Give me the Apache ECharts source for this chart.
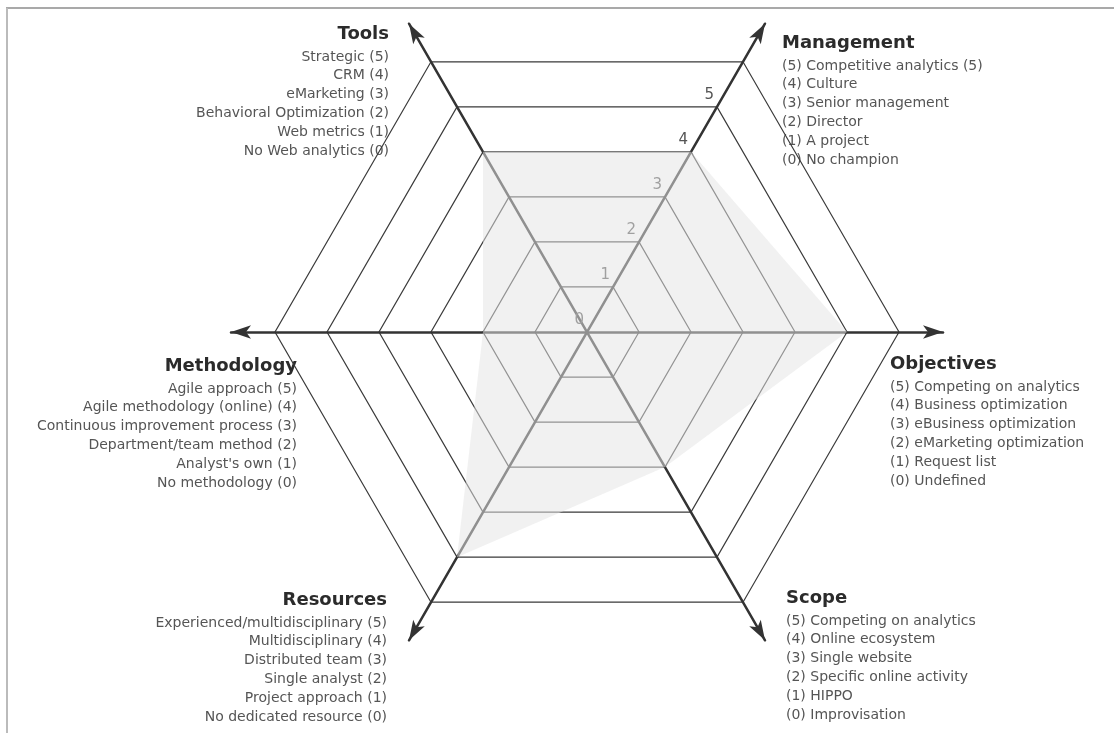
<!DOCTYPE html>
<html>
<head>
<meta charset="utf-8">
<title>Web analytics maturity</title>
<script src="https://cdn.jsdelivr.net/npm/echarts@6/dist/echarts.min.js"></script>
<style>
  html, body { margin: 0; padding: 0; background: #fff; }
  #chart { width: 1114px; height: 733px; }
</style>
</head>
<body>
<div id="chart"></div>
<script>
// axes run counter-clockwise from the right-hand one
const axisNames = ['Objectives', 'Management', 'Tools', 'Methodology', 'Resources', 'Scope'];
const scores = [5, 4, 4, 2, 5, 3];
const scaleMax = 6;
const tickLabels = ['0', '1', '2', '3', '4', '5'];

const objectivesLevels = [
  '(5) Competing on analytics', '(4) Business optimization', '(3) eBusiness optimization',
  '(2) eMarketing optimization', '(1) Request list', '(0) Undefined'
];
const managementLevels = [
  '(5) Competitive analytics (5)', '(4) Culture', '(3) Senior management',
  '(2) Director', '(1) A project', '(0) No champion'
];
const toolsLevels = [
  'Strategic (5)', 'CRM (4)', 'eMarketing (3)',
  'Behavioral Optimization (2)', 'Web metrics (1)', 'No Web analytics (0)'
];
const methodologyLevels = [
  'Agile approach (5)', 'Agile methodology (online) (4)', 'Continuous improvement process (3)',
  'Department/team method (2)', "Analyst's own (1)", 'No methodology (0)'
];
const resourcesLevels = [
  'Experienced/multidisciplinary (5)', 'Multidisciplinary (4)', 'Distributed team (3)',
  'Single analyst (2)', 'Project approach (1)', 'No dedicated resource (0)'
];
const scopeLevels = [
  '(5) Competing on analytics', '(4) Online ecosystem', '(3) Single website',
  '(2) Specific online activity', '(1) HIPPO', '(0) Improvisation'
];

const levelLists = {
  Objectives: objectivesLevels,
  Management: managementLevels,
  Tools: toolsLevels,
  Methodology: methodologyLevels,
  Resources: resourcesLevels,
  Scope: scopeLevels
};

// where each caption block hangs
const blockLayout = {
  Tools:       { x: 389, y: 34, align: 'right' },
  Management:  { x: 782, y: 43, align: 'left' },
  Objectives:  { x: 890, y: 364, align: 'left' },
  Methodology: { x: 297, y: 366, align: 'right' },
  Resources:   { x: 387, y: 600, align: 'right' },
  Scope:       { x: 786, y: 598, align: 'left' }
};

const CENTER = [587, 332];
const FONT = '"DejaVu Sans", sans-serif';

function buildCaptions() {
  const out = [];
  axisNames.forEach(name => {
    const pos = blockLayout[name];
    out.push({
      type: 'text',
      x: pos.x,
      y: pos.y,
      silent: true,
      style: {
        text: name,
        font: 'bold 18px ' + FONT,
        fill: '#2b2b2b',
        align: pos.align,
        verticalAlign: 'middle'
      }
    });
    levelLists[name].forEach((line, i) => {
      out.push({
        type: 'text',
        x: pos.x,
        y: pos.y + 23 + i * 18.8,
        silent: true,
        style: {
          text: line,
          font: '14px ' + FONT,
          fill: '#555',
          align: pos.align,
          verticalAlign: 'middle'
        }
      });
    });
  });
  return out;
}

const chart = echarts.init(document.getElementById('chart'));

const option = {
  animation: false,
  backgroundColor: '#fff',
  radar: [
    {
      // rings + scale labels
      center: CENTER,
      radius: 312,
      startAngle: 0,
      shape: 'polygon',
      splitNumber: 6,
      indicator: axisNames.map(name => {
        const ind = { name: name, min: 0, max: scaleMax };
        if (name === 'Management') ind.axisLabel = { show: true };
        return ind;
      }),
      axisName: { show: false },
      axisLine: { show: false },
      axisTick: { show: false },
      axisLabel: {
        show: false,
        margin: 9,
        color: '#555',
        fontSize: 15,
        fontFamily: FONT,
        align: 'center',
        verticalAlign: 'bottom',
        formatter: v => (tickLabels[v] !== undefined ? tickLabels[v] : '')
      },
      splitLine: { lineStyle: { color: '#3a3a3a', width: 1.2 } },
      splitArea: { show: false }
    },
    {
      // longer axes with arrow heads
      center: CENTER,
      radius: 356,
      startAngle: 0,
      shape: 'polygon',
      splitNumber: 1,
      indicator: axisNames.map(name => ({ name: name, min: 0, max: 1 })),
      axisName: { show: false },
      axisLine: {
        symbol: ['none', 'arrow'],
        symbolSize: [10, 20],
        lineStyle: { color: '#333', width: 2.5 }
      },
      axisTick: { show: false },
      axisLabel: { show: false },
      splitLine: { show: false },
      splitArea: { show: false }
    }
  ],
  series: [
    {
      type: 'radar',
      radarIndex: 0,
      silent: true,
      symbol: 'none',
      lineStyle: { width: 0, opacity: 0 },
      areaStyle: { color: 'rgba(228,228,228,0.75)' },
      data: [{ name: 'Profile', value: scores }]
    }
  ],
  graphic: [
    {
      type: 'line',
      silent: true,
      shape: { x1: 6, y1: 8, x2: 1114, y2: 8 },
      style: { stroke: '#555', lineWidth: 1.2 }
    },
    {
      type: 'line',
      silent: true,
      shape: { x1: 7, y1: 8, x2: 7, y2: 733 },
      style: { stroke: '#bbb', lineWidth: 2 }
    }
  ].concat(buildCaptions())
};

chart.setOption(option);
window.addEventListener('resize', () => chart.resize());
</script>
</body>
</html>
